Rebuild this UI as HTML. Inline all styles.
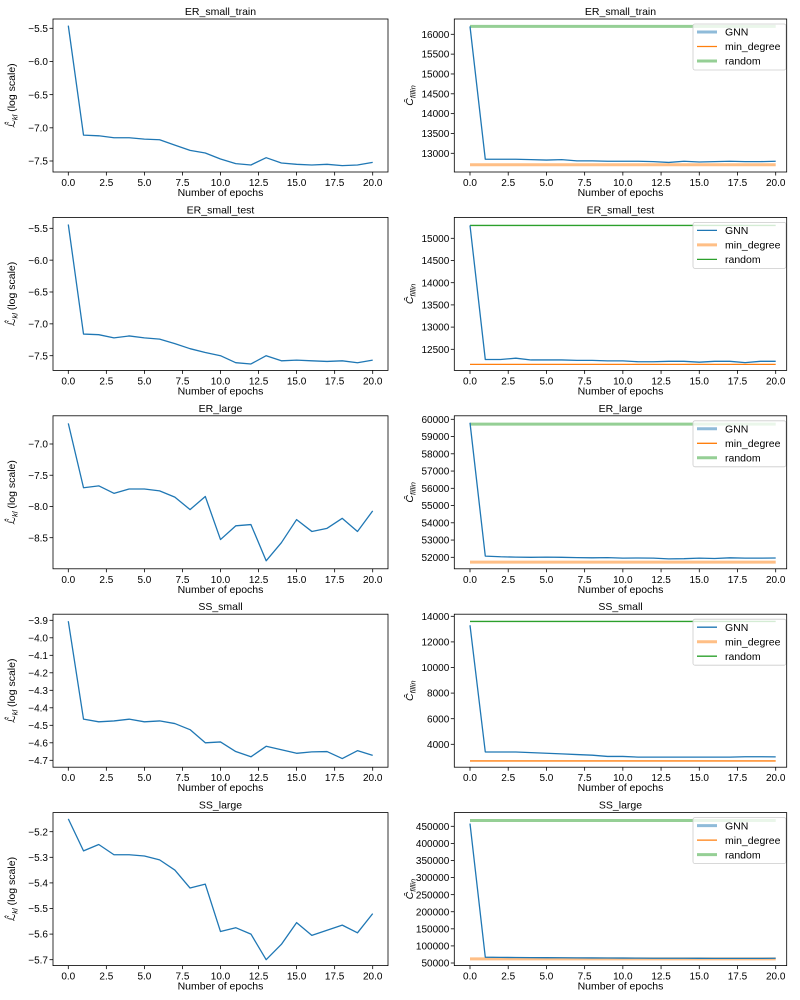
<!DOCTYPE html>
<html><head><meta charset="utf-8"><style>
body{margin:0;background:#fff;}
svg{display:block;font-family:"Liberation Sans","DejaVu Sans",sans-serif;}
</style></head><body>
<svg id="fig" width="800" height="1000" viewBox="0 0 800 1000"></svg>
<script>
const epochs=[0,1,2,3,4,5,6,7,8,9,10,11,12,13,14,15,16,17,18,19,20];
const titles=["ER_small_train","ER_small_test","ER_large","SS_small","SS_large"];
const klERsmallTrain=[-5.46,-7.11,-7.12,-7.15,-7.15,-7.17,-7.18,-7.26,-7.34,-7.38,-7.47,-7.54,-7.56,-7.45,-7.53,-7.55,-7.56,-7.55,-7.57,-7.56,-7.52];
const klERsmallTest=[-5.44,-7.16,-7.17,-7.22,-7.19,-7.22,-7.24,-7.31,-7.39,-7.45,-7.50,-7.61,-7.63,-7.50,-7.58,-7.57,-7.58,-7.59,-7.58,-7.61,-7.57];
const klERlarge=[-6.67,-7.70,-7.67,-7.79,-7.72,-7.72,-7.75,-7.85,-8.05,-7.84,-8.53,-8.31,-8.29,-8.87,-8.58,-8.21,-8.40,-8.35,-8.19,-8.40,-8.07];
const klSSsmall=[-3.905,-4.465,-4.48,-4.475,-4.465,-4.48,-4.475,-4.49,-4.525,-4.60,-4.595,-4.65,-4.68,-4.62,-4.64,-4.66,-4.652,-4.65,-4.69,-4.645,-4.672];
const klSSlarge=[-5.15,-5.275,-5.25,-5.29,-5.29,-5.295,-5.31,-5.35,-5.42,-5.405,-5.59,-5.575,-5.60,-5.70,-5.64,-5.555,-5.605,-5.585,-5.565,-5.595,-5.52];
const gnnERsmallTrain=[16200,12850,12850,12850,12840,12830,12840,12810,12810,12800,12800,12800,12790,12770,12800,12780,12790,12800,12790,12790,12800];
const gnnERsmallTest=[15290,12270,12270,12300,12260,12260,12260,12250,12250,12240,12240,12220,12220,12230,12230,12210,12230,12230,12200,12230,12230];
const gnnERlarge=[59800,52070,52030,52010,52000,52010,52000,51980,51970,51980,51950,51960,51950,51910,51920,51950,51930,51970,51950,51950,51960];
const gnnSSsmall=[13300,3400,3400,3400,3350,3300,3250,3200,3150,3050,3050,3000,3000,3000,3000,3000,3000,3000,3030,3030,3020];
const gnnSSlarge=[458000,67000,66500,66000,65800,65500,65300,65000,64800,64600,64400,64200,64000,63900,63800,63700,63600,63500,63500,63500,64000];
const randomVals=[16200,15290,59720,13600,467000];
const minDegreeVals=[12710,12160,51720,2700,62000];
const klTicks=[[-5.5,-6.0,-6.5,-7.0,-7.5],[-5.5,-6.0,-6.5,-7.0,-7.5],[-7.0,-7.5,-8.0,-8.5],[-3.9,-4.0,-4.1,-4.2,-4.3,-4.4,-4.5,-4.6,-4.7],[-5.2,-5.3,-5.4,-5.5,-5.6,-5.7]];
const fillTicks=[[13000,13500,14000,14500,15000,15500,16000],[12500,13000,13500,14000,14500,15000],[52000,53000,54000,55000,56000,57000,58000,59000,60000],[4000,6000,8000,10000,12000,14000],[50000,100000,150000,200000,250000,300000,350000,400000,450000]];
const xTicks=[0,2.5,5,7.5,10,12.5,15,17.5,20];

const klSeries=[klERsmallTrain,klERsmallTest,klERlarge,klSSsmall,klSSlarge];
const gnnSeries=[gnnERsmallTrain,gnnERsmallTest,gnnERlarge,gnnSSsmall,gnnSSlarge];
// calibration: [value, pixelY] pairs for each panel axis (layout, not data)
const klCal=[[-5.5,28.3,-7.5,161],[-5.5,228.3,-7.5,355.7],[-7.0,444,-8.5,537.7],[-3.9,620.3,-4.7,760.3],[-5.2,831.7,-5.7,959.7]];
const fillCal=[[16000,34.3,13000,153.3],[15000,238.3,12500,349.3],[60000,419.3,52000,557.3],[14000,616.3,4000,744.3],[450000,826.3,50000,963]];
// style flags per row: thick(light) or thin for GNN, min_degree, random in plot / legend
const thick={w:3,o:0.5}, thin={w:1.3,o:1};
const plotStyles=[[thin,thick,thick],[thin,thin,thin],[thin,thick,thick],[thin,thin,thin],[thin,thick,thick]];
const legStyles=[[thick,thin,thick],[thin,thick,thin],[thick,thin,thick],[thin,thick,thin],[thick,thin,thick]];
const colors=["#1f77b4","#ff7f0e","#2ca02c"];
const names=["GNN","min_degree","random"];

const NS="http://www.w3.org/2000/svg";
const svg=document.getElementById('fig');
function mk(tag,attrs,parent,text){const e=document.createElementNS(NS,tag);for(const k in attrs)e.setAttribute(k,attrs[k]);if(text!==undefined)e.textContent=text;(parent||svg).appendChild(e);return e;}
function fmtTick(v,dec){return (v<0?"\u2212":"")+Math.abs(v).toFixed(dec);}

for(let r=0;r<5;r++){
  const top=19+198.4*r, bot=172+198.4*r;
  for(let c=0;c<2;c++){
    const L=c?454.3:53, R=c?786.7:388, x0=c?470:68.3, x20=c?775.7:372.7;
    const xs=v=>x0+(x20-x0)*v/20;
    const cal=c?fillCal[r]:klCal[r];
    const ys=v=>cal[1]+(v-cal[0])*(cal[3]-cal[1])/(cal[2]-cal[0]);
    const g=mk('g',{});
    
    
    const cx=(L+R)/2;
    const t=mk('text',{x:cx,y:top-4,'text-anchor':'middle','font-size':10.5,fill:'#000'},g,titles[r]);
    
    
    // x ticks
    xTicks.forEach(v=>{const X=xs(v);mk('line',{x1:X,x2:X,y1:bot,y2:bot+3.5,stroke:'#000','stroke-width':0.8},g);
      const tl=mk('text',{x:X,y:bot+14,'text-anchor':'middle','font-size':10,fill:'#000'},g,v.toFixed(1));
      
      });
    const xl=mk('text',{x:cx,y:bot+24,'text-anchor':'middle','font-size':10.5,fill:'#000'},g,'Number of epochs');
    
    
    // y ticks
    const ticks=c?fillTicks[r]:klTicks[r];
    const dec=c?0:((r===3||r===4)?1:1);
    ticks.forEach(v=>{const Y=ys(v);mk('line',{x1:L-3.5,x2:L,y1:Y,y2:Y,stroke:'#000','stroke-width':0.8},g);
      const tl=mk('text',{x:L-5,y:Y+3.6,'text-anchor':'end','font-size':10,fill:'#000'},g,fmtTick(v,dec));
      
      });
    // y label
    const ylx=c?413:15, yly=(top+bot)/2;
    const yl=mk('text',{x:ylx,y:yly,'text-anchor':'middle','font-size':10.5,fill:'#000',transform:`rotate(-90 ${ylx} ${yly})`},g);
    
    
    if(c){mk('tspan',{'font-style':'italic'},yl,'\u0108');mk('tspan',{'font-size':7.5,'font-style':'italic',dy:2.5},yl,'fillin');}
    else{mk('tspan',{'font-style':'italic'},yl,'\u2112\u0302');mk('tspan',{'font-size':7.5,'font-style':'italic',dy:2.5},yl,'kl');mk('tspan',{dy:-2.5},yl,' (log scale)');}
    // series
    const pts=arr=>arr.map((v,i)=>xs(epochs[i]).toFixed(2)+','+ys(v).toFixed(2)).join(' ');
    if(!c){
      const p=mk('polyline',{points:pts(klSeries[r]),fill:'none',stroke:colors[0],'stroke-width':1.3,'stroke-linejoin':'round'},g);
      
      
    } else {
      const st=plotStyles[r];
      const xa=xs(epochs[0]), xb=xs(epochs[epochs.length-1]);
      const rl=mk('line',{x1:xa,x2:xb,y1:ys(randomVals[r]),y2:ys(randomVals[r]),stroke:colors[2],'stroke-width':st[2].w,'stroke-opacity':st[2].o},g);
      
      
      const ml=mk('line',{x1:xa,x2:xb,y1:ys(minDegreeVals[r]),y2:ys(minDegreeVals[r]),stroke:colors[1],'stroke-width':st[1].w,'stroke-opacity':st[1].o},g);
      
      
      const gl=mk('polyline',{points:pts(gnnSeries[r]),fill:'none',stroke:colors[0],'stroke-width':st[0].w,'stroke-opacity':st[0].o,'stroke-linejoin':'round'},g);
      
      
      // legend
      const lg=mk('g',{},g);
      
      
      mk('rect',{x:693,y:top+5,width:93,height:46,rx:2,fill:'#fff','fill-opacity':0.8,stroke:'#ccc','stroke-width':0.8},lg);
      const ls=legStyles[r];
      names.forEach((n,i)=>{const Y=top+13+14.5*i;
        const e=mk('g',{},lg);
        
        
        mk('line',{x1:697,x2:717,y1:Y,y2:Y,stroke:colors[i],'stroke-width':ls[i].w,'stroke-opacity':ls[i].o},e);
        mk('text',{x:725,y:Y+3.7,'font-size':10.5,fill:'#000'},e,n);});
    }
    mk('rect',{x:L,y:top,width:R-L,height:bot-top,fill:'none',stroke:'#000','stroke-width':0.8},g);
  }
}
</script>
</body></html>
